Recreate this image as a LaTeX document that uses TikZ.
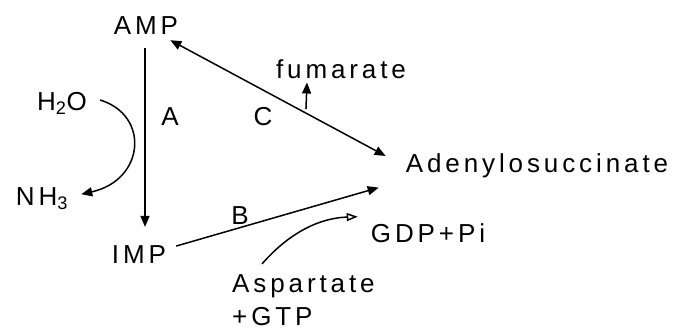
\documentclass[tikz,border=0pt]{standalone}
\usepackage{fontspec}
\setmainfont[LetterSpace=15]{Liberation Sans}
\usepackage{tikz}
\usetikzlibrary{arrows.meta}

\begin{document}
\begin{tikzpicture}[x=1pt,y=-1pt]
			\tikzset{every node/.style={inner sep=0pt,anchor=base,font=\fontsize{26}{33}\selectfont}}
			\tikzset{arr/.style={line width=1.5pt,-{Triangle[length=11pt,width=9pt]}}}
			\tikzset{dblarr/.style={line width=1.5pt,{Triangle[length=11pt,width=9pt]}-{Triangle[length=11pt,width=9pt]}}}
			\tikzset{openarr/.style={line width=1.5pt,-{Triangle[open,length=11pt,width=8pt]}}}
			\useasboundingbox (0,0) rectangle (685,329);
			% compounds
			\node (amp) at (146,35) {AMP};
			\node (imp) at (139,263) {IMP};
			\node (adeno) at (537,172) {Adenylosuccinate};
			\node (h2o) at (62,110) {H\textsubscript{2}O};
			\node (nh3) at (42,205) {NH\textsubscript{3}};
			\node (fum) at (341,78) {fumarate};
			\node (gdp) at (428,242) {GDP+Pi};
			\node[anchor=base west,align=left] (asp) at (232,325) {Aspartate\\+GTP};
			% enzymes
			\node (la) at (170,125) {A};
			\node (lb) at (240,224) {B};
			\node (lc) at (263,125) {C};
			% reactions
			\draw[arr] ([xshift=-1pt,yshift=-13pt]amp.south) -- ([xshift=6pt,yshift=18pt]imp.north);
			\draw[dblarr] ([xshift=-8pt,yshift=-5pt]amp.south east) -- coordinate[pos=0.63] (cmid) ([xshift=-20pt,yshift=-3pt]adeno.north west);
			\draw[arr] ([yshift=4pt]cmid) -- ([xshift=-34pt,yshift=-4pt]fum.south);
			\draw[arr] ([xshift=10pt,yshift=8pt]imp.east) -- ([xshift=-27pt,yshift=-10pt]adeno.south west);
			\draw[arr] ([xshift=13pt,yshift=3pt]h2o.east) .. controls (150,115) and (145,180) .. ([xshift=13pt,yshift=4pt]nh3.east);
			\draw[openarr] ([xshift=30pt,yshift=10pt]asp.north west) .. controls (290,232) and (320,218) .. ([xshift=-13pt,yshift=16pt]gdp.west);
\end{tikzpicture}
\end{document}
